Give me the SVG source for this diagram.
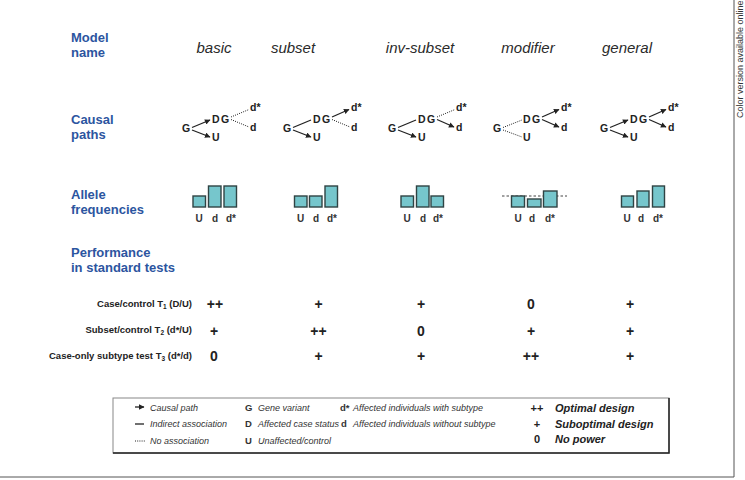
<svg xmlns="http://www.w3.org/2000/svg" width="745" height="480" viewBox="0 0 745 480">
<style>
.lab{font-family:"Liberation Sans",Arial,sans-serif;font-weight:bold;font-size:13px;fill:#2c55a0}
.mn{font-family:"Liberation Sans",Arial,sans-serif;font-style:italic;font-size:15px;fill:#2a2a2a;text-anchor:middle}
.nd{font-family:"Liberation Sans",Arial,sans-serif;font-weight:bold;font-size:10.5px;fill:#222}
.bl{font-family:"Liberation Sans",Arial,sans-serif;font-weight:bold;font-size:10px;fill:#333;text-anchor:middle}
.bar{fill:#76c6cc;stroke:#2f4343;stroke-width:1.4}
.tl{font-family:"Liberation Sans",Arial,sans-serif;font-weight:bold;font-size:9.5px;fill:#222;text-anchor:end}
.sy{font-family:"Liberation Sans",Arial,sans-serif;font-weight:bold;font-size:14px;fill:#222;text-anchor:middle}
.lg{font-family:"Liberation Sans",Arial,sans-serif;font-style:italic;font-size:9px;fill:#333}
.lk{font-family:"Liberation Sans",Arial,sans-serif;font-weight:bold;font-size:9.5px;fill:#333}
.lb{font-family:"Liberation Sans",Arial,sans-serif;font-weight:bold;font-style:italic;font-size:11px;fill:#222}
.ls{font-family:"Liberation Sans",Arial,sans-serif;font-weight:bold;font-size:11px;fill:#222;text-anchor:middle}
.ar{stroke:#222;stroke-width:1.3;fill:none;marker-end:url(#ah)}
.sl{stroke:#222;stroke-width:1.3;fill:none}
.dt{stroke:#222;stroke-width:1;fill:none;stroke-dasharray:1 1.2}
</style>
<defs>
<marker id="ah" viewBox="0 0 6 6" refX="5.5" refY="3" markerWidth="6" markerHeight="5.5" markerUnits="userSpaceOnUse" orient="auto"><path d="M0,0 L6,3 L0,6 z" fill="#222"/></marker>
</defs>

<g id="frame">
<line x1="734" y1="0" x2="734" y2="477" stroke="#555" stroke-width="1"/>
<line x1="0" y1="477" x2="734" y2="477" stroke="#555" stroke-width="1"/>
<text transform="translate(743,118) rotate(-90)" font-family="Liberation Sans, Arial, sans-serif" font-size="9px" fill="#333">Color version available online</text>
</g>

<g id="row-labels">
<text class="lab" x="71" y="42">Model</text>
<text class="lab" x="71" y="57">name</text>
<text class="lab" x="71" y="124">Causal</text>
<text class="lab" x="71" y="139">paths</text>
<text class="lab" x="71" y="199">Allele</text>
<text class="lab" x="71" y="214">frequencies</text>
<text class="lab" x="71" y="257">Performance</text>
<text class="lab" x="71" y="272">in standard tests</text>
</g>

<g id="model-names">
<text class="mn" x="214" y="53">basic</text>
<text class="mn" x="293" y="53">subset</text>
<text class="mn" x="420" y="53">inv-subset</text>
<text class="mn" x="528" y="53">modifier</text>
<text class="mn" x="627" y="53">general</text>
</g>

<g id="paths-basic">
<text class="nd" x="182" y="132">G</text><text class="nd" x="212" y="123">D</text><text class="nd" x="221" y="123">G</text>
<text class="nd" x="212" y="141">U</text><text class="nd" x="250" y="111">d*</text><text class="nd" x="250" y="131">d</text>
</g>
<g id="paths-subset">
<text class="nd" x="283" y="132">G</text><text class="nd" x="313" y="123">D</text><text class="nd" x="322" y="123">G</text>
<text class="nd" x="313" y="141">U</text><text class="nd" x="351" y="111">d*</text><text class="nd" x="351" y="131">d</text>
</g>
<g id="paths-inv-subset">
<text class="nd" x="388" y="132">G</text><text class="nd" x="418" y="123">D</text><text class="nd" x="427" y="123">G</text>
<text class="nd" x="418" y="141">U</text><text class="nd" x="456" y="111">d*</text><text class="nd" x="456" y="131">d</text>
</g>
<g id="paths-modifier">
<text class="nd" x="493" y="132">G</text><text class="nd" x="523" y="123">D</text><text class="nd" x="532" y="123">G</text>
<text class="nd" x="523" y="141">U</text><text class="nd" x="561" y="111">d*</text><text class="nd" x="561" y="131">d</text>
</g>
<g id="paths-general">
<text class="nd" x="600" y="132">G</text><text class="nd" x="630" y="123">D</text><text class="nd" x="639" y="123">G</text>
<text class="nd" x="630" y="141">U</text><text class="nd" x="668" y="111">d*</text><text class="nd" x="668" y="131">d</text>
</g>

<g id="connectors">
<line class="ar" x1="192" y1="127.5" x2="210" y2="120"/>
<line class="ar" x1="192" y1="130" x2="210" y2="137"/>
<line class="dt" x1="231" y1="117" x2="249" y2="109.5"/>
<line class="dt" x1="231" y1="119.5" x2="249" y2="127"/>

<line class="sl" x1="293" y1="127.5" x2="311" y2="120"/>
<line class="ar" x1="293" y1="130" x2="311" y2="137"/>
<line class="ar" x1="332" y1="117" x2="349" y2="109.5"/>
<line class="dt" x1="332" y1="119.5" x2="350" y2="127"/>

<line class="sl" x1="398" y1="127.5" x2="416" y2="120"/>
<line class="ar" x1="398" y1="130" x2="416" y2="137"/>
<line class="dt" x1="437" y1="117" x2="455" y2="109.5"/>
<line class="ar" x1="437" y1="119.5" x2="454" y2="127"/>

<line class="dt" x1="503" y1="127.5" x2="522" y2="120"/>
<line class="dt" x1="503" y1="130" x2="522" y2="137"/>
<line class="ar" x1="542" y1="117" x2="559" y2="109.5"/>
<line class="ar" x1="542" y1="119.5" x2="559" y2="127"/>

<line class="ar" x1="610" y1="127.5" x2="628" y2="120"/>
<line class="ar" x1="610" y1="130" x2="628" y2="137"/>
<line class="ar" x1="649" y1="117" x2="666" y2="109.5"/>
<line class="ar" x1="649" y1="119.5" x2="666" y2="127"/>
</g>

<g id="freq-basic">
<rect class="bar" x="193" y="196" width="12.5" height="11"/>
<rect class="bar" x="208.5" y="186" width="12.5" height="21"/>
<rect class="bar" x="224" y="186" width="12.5" height="21"/>
<text class="bl" x="199" y="222">U</text><text class="bl" x="215" y="222">d</text><text class="bl" x="231" y="222">d*</text>
</g>
<g id="freq-subset">
<rect class="bar" x="294.5" y="196" width="12.5" height="11"/>
<rect class="bar" x="309.5" y="196" width="12.5" height="11"/>
<rect class="bar" x="325" y="186" width="12.5" height="21"/>
<text class="bl" x="300.5" y="222">U</text><text class="bl" x="316" y="222">d</text><text class="bl" x="332" y="222">d*</text>
</g>
<g id="freq-inv-subset">
<rect class="bar" x="401" y="196" width="12.5" height="11"/>
<rect class="bar" x="416.5" y="186" width="12.5" height="21"/>
<rect class="bar" x="431" y="196" width="12.5" height="11"/>
<text class="bl" x="407" y="222">U</text><text class="bl" x="423" y="222">d</text><text class="bl" x="438" y="222">d*</text>
</g>
<g id="freq-modifier">
<line x1="502" y1="196" x2="567" y2="196" stroke="#444" stroke-width="1" stroke-dasharray="2.5 2"/>
<rect class="bar" x="511.5" y="196" width="13" height="11"/>
<rect class="bar" x="527.5" y="199" width="13.5" height="8"/>
<rect class="bar" x="543.5" y="191" width="13.5" height="16"/>
<text class="bl" x="518" y="222">U</text><text class="bl" x="532" y="222">d</text><text class="bl" x="550" y="222">d*</text>
</g>
<g id="freq-general">
<rect class="bar" x="621.5" y="196" width="12" height="11"/>
<rect class="bar" x="637" y="191" width="12" height="16"/>
<rect class="bar" x="652.5" y="186" width="12" height="21"/>
<text class="bl" x="627" y="222">U</text><text class="bl" x="641" y="222">d</text><text class="bl" x="658" y="222">d*</text>
</g>

<g id="performance">
<text class="tl" x="192" y="307">Case/control T<tspan font-size="6.5px" dy="2">1</tspan><tspan dy="-2"> (D/U)</tspan></text>
<text class="tl" x="192" y="333">Subset/control T<tspan font-size="6.5px" dy="2">2</tspan><tspan dy="-2"> (d*/U)</tspan></text>
<text class="tl" x="192" y="359">Case-only subtype test T<tspan font-size="6.5px" dy="2">3</tspan><tspan dy="-2"> (d*/d)</tspan></text>
<text class="sy" x="215" y="309">++</text><text class="sy" x="318.5" y="309">+</text><text class="sy" x="421" y="309">+</text><text class="sy" x="531" y="309">0</text><text class="sy" x="630" y="309">+</text>
<text class="sy" x="214" y="336">+</text><text class="sy" x="318.5" y="336">++</text><text class="sy" x="421" y="336">0</text><text class="sy" x="531" y="336">+</text><text class="sy" x="630" y="336">+</text>
<text class="sy" x="214" y="361">0</text><text class="sy" x="318.5" y="361">+</text><text class="sy" x="421" y="361">+</text><text class="sy" x="531" y="361">++</text><text class="sy" x="630" y="361">+</text>
</g>

<g id="legend">
<rect x="113" y="398" width="556" height="55" fill="#fff" stroke="#888" stroke-width="1"/>
<polyline points="669,398 669,453 113,453" fill="none" stroke="#222" stroke-width="1.5"/>
<line class="ar" x1="135" y1="407" x2="144" y2="407"/>
<line class="sl" x1="135" y1="424" x2="144" y2="424"/>
<line class="dt" x1="135" y1="441" x2="145" y2="441"/>
<text class="lg" x="150" y="411">Causal path</text>
<text class="lg" x="150" y="427">Indirect association</text>
<text class="lg" x="150" y="443.5">No association</text>
<text class="lk" x="245" y="411">G</text><text class="lg" x="258" y="411">Gene variant</text>
<text class="lk" x="245" y="427">D</text><text class="lg" x="258" y="427">Affected case status</text>
<text class="lk" x="245" y="443.5">U</text><text class="lg" x="258" y="443.5">Unaffected/control</text>
<text class="lk" x="340" y="411">d*</text><text class="lg" x="353" y="411">Affected individuals with subtype</text>
<text class="lk" x="341" y="427">d</text><text class="lg" x="353" y="427">Affected individuals without subtype</text>
<text class="ls" x="537" y="412">++</text><text class="lb" x="555" y="412">Optimal design</text>
<text class="ls" x="537" y="427.5">+</text><text class="lb" x="555" y="427.5">Suboptimal design</text>
<text class="ls" x="537" y="443">0</text><text class="lb" x="555" y="443">No power</text>
</g>
</svg>
